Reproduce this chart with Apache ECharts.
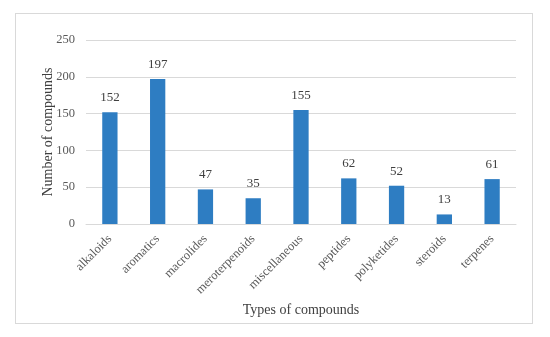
<!DOCTYPE html>
<html><head><meta charset="utf-8">
<script src="https://cdn.jsdelivr.net/npm/echarts@6/dist/echarts.min.js"></script>
<style>html,body{margin:0;padding:0;background:#fff}#c{width:550px;height:337px}
#b{position:absolute;left:15px;top:13px;width:518px;height:311px;border:1px solid #d9d9d9;box-sizing:border-box;pointer-events:none}</style>
</head><body><div id="c"></div><div id="b"></div>
<script>
var categories = ["alkaloids","aromatics","macrolides","meroterpenoids","miscellaneous","peptides","polyketides","steroids","terpenes"];
var values = [152,197,47,35,155,62,52,13,61];
var yTicks = [0,50,100,150,200,250];
var font = "'Liberation Serif', serif";
var chart = echarts.init(document.getElementById('c'));
chart.setOption({
  animation:false,
  grid:{left:86,right:34,top:40,bottom:113,containLabel:false},
  xAxis:{type:'category',data:categories,
    name:'Types of compounds',nameLocation:'middle',nameGap:79,nameMoveOverlap:false,
    nameTextStyle:{fontFamily:font,fontSize:14,color:'#404040'},
    axisLine:{lineStyle:{color:'#d9d9d9'}},axisTick:{show:false},
    axisLabel:{rotate:45,interval:0,fontFamily:font,fontSize:12.5,color:'#595959',margin:13}},
  yAxis:{type:'value',min:yTicks[0],max:yTicks[yTicks.length-1],interval:50,
    name:'Number of compounds',nameLocation:'middle',nameGap:31,nameMoveOverlap:false,
    nameTextStyle:{fontFamily:font,fontSize:14,color:'#404040'},
    axisLine:{show:false},axisTick:{show:false},
    splitLine:{lineStyle:{color:'#d9d9d9'}},
    axisLabel:{fontFamily:font,fontSize:12.5,color:'#595959',margin:11}},
  series:[{type:'bar',data:values,barWidth:'32%',
    itemStyle:{color:'#2e7dc2'},
    label:{show:true,position:'top',distance:8,fontFamily:font,fontSize:13,color:'#404040'}}]
});
</script></body></html>
